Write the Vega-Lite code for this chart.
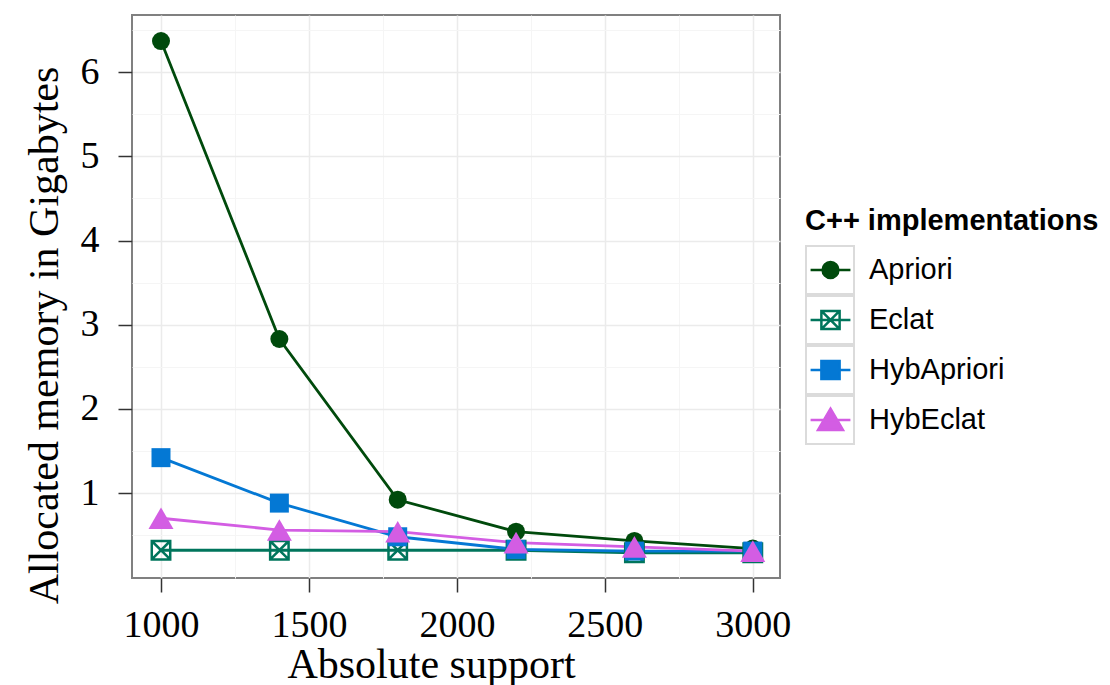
{
  "$schema": "https://vega.github.io/schema/vega-lite/v6.json",
  "autosize": "none",
  "width": 648,
  "height": 563,
  "padding": {"left": 132, "top": 15, "right": 330, "bottom": 107},
  "background": "white",
  "config": {
    "view": {"stroke": "#808080", "strokeWidth": 2},
    "axis": {
      "domain": false,
      "labelFont": "Liberation Serif",
      "labelFontSize": 38,
      "labelColor": "#000000",
      "titleFont": "Liberation Serif",
      "titleFontSize": 42,
      "titleFontWeight": "normal",
      "titleColor": "#000000",
      "tickSize": 14,
      "tickWidth": 1.5
    },
    "legend": {
      "labelFont": "Liberation Sans",
      "labelFontSize": 29,
      "labelColor": "#000000",
      "titleFont": "Liberation Sans",
      "titleFontSize": 29,
      "titleFontWeight": "bold",
      "titleColor": "#000000",
      "titleLimit": 500,
      "padding": 0
    }
  },
  "data": {
    "values": [
      {"support": 1000, "series": "Apriori", "mem": 6.37},
      {"support": 1400, "series": "Apriori", "mem": 2.83},
      {"support": 1800, "series": "Apriori", "mem": 0.92},
      {"support": 2200, "series": "Apriori", "mem": 0.54},
      {"support": 2600, "series": "Apriori", "mem": 0.43},
      {"support": 3000, "series": "Apriori", "mem": 0.34},
      {"support": 1000, "series": "Eclat", "mem": 0.32},
      {"support": 1400, "series": "Eclat", "mem": 0.32},
      {"support": 1800, "series": "Eclat", "mem": 0.32},
      {"support": 2200, "series": "Eclat", "mem": 0.32},
      {"support": 2600, "series": "Eclat", "mem": 0.29},
      {"support": 3000, "series": "Eclat", "mem": 0.29},
      {"support": 1000, "series": "HybApriori", "mem": 1.42},
      {"support": 1400, "series": "HybApriori", "mem": 0.88},
      {"support": 1800, "series": "HybApriori", "mem": 0.48},
      {"support": 2200, "series": "HybApriori", "mem": 0.33},
      {"support": 2600, "series": "HybApriori", "mem": 0.31},
      {"support": 3000, "series": "HybApriori", "mem": 0.31},
      {"support": 1000, "series": "HybEclat", "mem": 0.70},
      {"support": 1400, "series": "HybEclat", "mem": 0.56},
      {"support": 1800, "series": "HybEclat", "mem": 0.54},
      {"support": 2200, "series": "HybEclat", "mem": 0.41},
      {"support": 2600, "series": "HybEclat", "mem": 0.36},
      {"support": 3000, "series": "HybEclat", "mem": 0.31}
    ]
  },
  "encoding": {
    "x": {
      "field": "support", "type": "quantitative",
      "scale": {"domain": [902, 3092], "nice": false, "zero": false},
      "axis": {
        "title": "Absolute support",
        "values": [1000, 1250, 1500, 1750, 2000, 2250, 2500, 2750, 3000],
        "format": "d",
        "labelExpr": "datum.value % 500 === 0 ? datum.label : ''",
        "labelPadding": 14,
        "labelFlush": false,
        "gridColor": {"condition": {"test": "datum.value % 500 !== 0", "value": "#f5f5f5"}, "value": "#ebebeb"},
        "gridWidth": {"condition": {"test": "datum.value % 500 !== 0", "value": 1}, "value": 1.5},
        "tickColor": {"condition": {"test": "datum.value % 500 !== 0", "value": "transparent"}, "value": "#333333"},
        "titleX": 299,
        "titleY": 99,
        "titleBaseline": "alphabetic"
      }
    },
    "y": {
      "field": "mem", "type": "quantitative",
      "scale": {"domain": [-0.01, 6.68], "nice": false, "zero": false},
      "axis": {
        "title": "Allocated memory in Gigabytes",
        "values": [0.5, 1, 1.5, 2, 2.5, 3, 3.5, 4, 4.5, 5, 5.5, 6, 6.5],
        "labelExpr": "datum.value % 1 === 0 ? format(datum.value, 'd') : ''",
        "labelPadding": 19,
        "labelFlush": false,
        "gridColor": {"condition": {"test": "datum.value % 1 !== 0", "value": "#f5f5f5"}, "value": "#ebebeb"},
        "gridWidth": {"condition": {"test": "datum.value % 1 !== 0", "value": 1}, "value": 1.5},
        "tickColor": {"condition": {"test": "datum.value % 1 !== 0", "value": "transparent"}, "value": "#333333"},
        "titleX": -75,
        "titleY": 320,
        "titleAngle": -90,
        "titleBaseline": "alphabetic"
      }
    },
    "color": {
      "field": "series", "type": "nominal",
      "scale": {
        "domain": ["Apriori", "Eclat", "HybApriori", "HybEclat"],
        "range": ["#004a0c", "#00755c", "#0478d4", "#d35de3"]
      },
      "legend": {
        "title": "C++ implementations",
        "orient": "none",
        "legendX": 673,
        "legendY": 192,
        "titlePadding": 9,
        "symbolSize": 2304,
        "symbolStrokeWidth": 2,
        "labelOffset": 13,
        "rowPadding": 0,
        "clipHeight": 50,
        "encode": {
          "symbols": {
            "update": {
              "shape": {"signal": "datum.value === 'Apriori' ? 'M-0.83,0H0.83M0.33,0A0.33,0.33,0,1,1,-0.33,0A0.33,0.33,0,1,1,0.33,0Z' : datum.value === 'Eclat' ? 'M-0.83,0H0.83M-0.38,-0.38H0.38V0.38H-0.38ZM-0.38,-0.38L0.38,0.38M0.38,-0.38L-0.38,0.38' : datum.value === 'HybApriori' ? 'M-0.83,0H0.83M-0.38,-0.38H0.38V0.38H-0.38Z' : 'M-0.83,0H0.83M0,-0.47L0.52,0.42H-0.52Z'"},
              "fill": {"signal": "datum.value === 'Apriori' ? '#004a0c' : datum.value === 'Eclat' ? 'transparent' : datum.value === 'HybApriori' ? '#0478d4' : '#d35de3'"},
              "fillOpacity": {"signal": "datum.value === 'Eclat' ? 0 : 1"},
              "stroke": {"signal": "datum.value === 'Apriori' ? '#004a0c' : datum.value === 'Eclat' ? '#00755c' : datum.value === 'HybApriori' ? '#0478d4' : '#d35de3'"},
              "strokeWidth": {"value": 2.5},
              "opacity": {"value": 1}
            }
          }
        }
      }
    }
  },
  "layer": [
    {
      "mark": {"type": "line", "strokeWidth": 2.8}
    },
    {
      "transform": [{"filter": "datum.series === 'Apriori'"}],
      "mark": {"type": "point", "filled": true, "size": 324, "opacity": 1, "shape": "circle"}
    },
    {
      "transform": [{"filter": "datum.series === 'Eclat'"}],
      "mark": {"type": "point", "filled": false, "size": 420, "opacity": 1, "strokeWidth": 2.5,
               "shape": "M-0.9,-0.9H0.9V0.9H-0.9ZM-0.9,-0.9L0.9,0.9M0.9,-0.9L-0.9,0.9"}
    },
    {
      "transform": [{"filter": "datum.series === 'HybApriori'"}],
      "mark": {"type": "point", "filled": true, "size": 361, "opacity": 1, "shape": "square"}
    },
    {
      "transform": [{"filter": "datum.series === 'HybEclat'"}],
      "mark": {"type": "point", "filled": true, "size": 625, "opacity": 1, "shape": "triangle-up"}
    },
    {
      "transform": [{"filter": "datum.series === 'none'"}],
      "mark": {"type": "point", "filled": false},
      "encoding": {
        "color": {"value": "#cccccc"},
        "shape": {
          "field": "series", "type": "nominal",
          "scale": {
            "domain": ["Eclat", "Apriori", "HybApriori", "HybEclat"],
            "range": ["square", "square", "square", "square"]
          },
          "legend": {
            "title": null,
            "labelExpr": "''",
            "orient": "none",
            "legendX": 673,
            "legendY": 230,
            "symbolSize": 2304,
            "symbolStrokeWidth": 2,
            "labelOffset": 13,
            "rowPadding": 0,
            "clipHeight": 50,
            "encode": {
              "symbols": {
                "update": {
                  "shape": {"value": "square"},
                  "fill": {"value": "transparent"},
                  "fillOpacity": {"value": 0},
                  "stroke": {"value": "#cccccc"},
                  "strokeWidth": {"value": 2},
                  "opacity": {"value": 1}
                }
              }
            }
          }
        }
      }
    }
  ]
}
